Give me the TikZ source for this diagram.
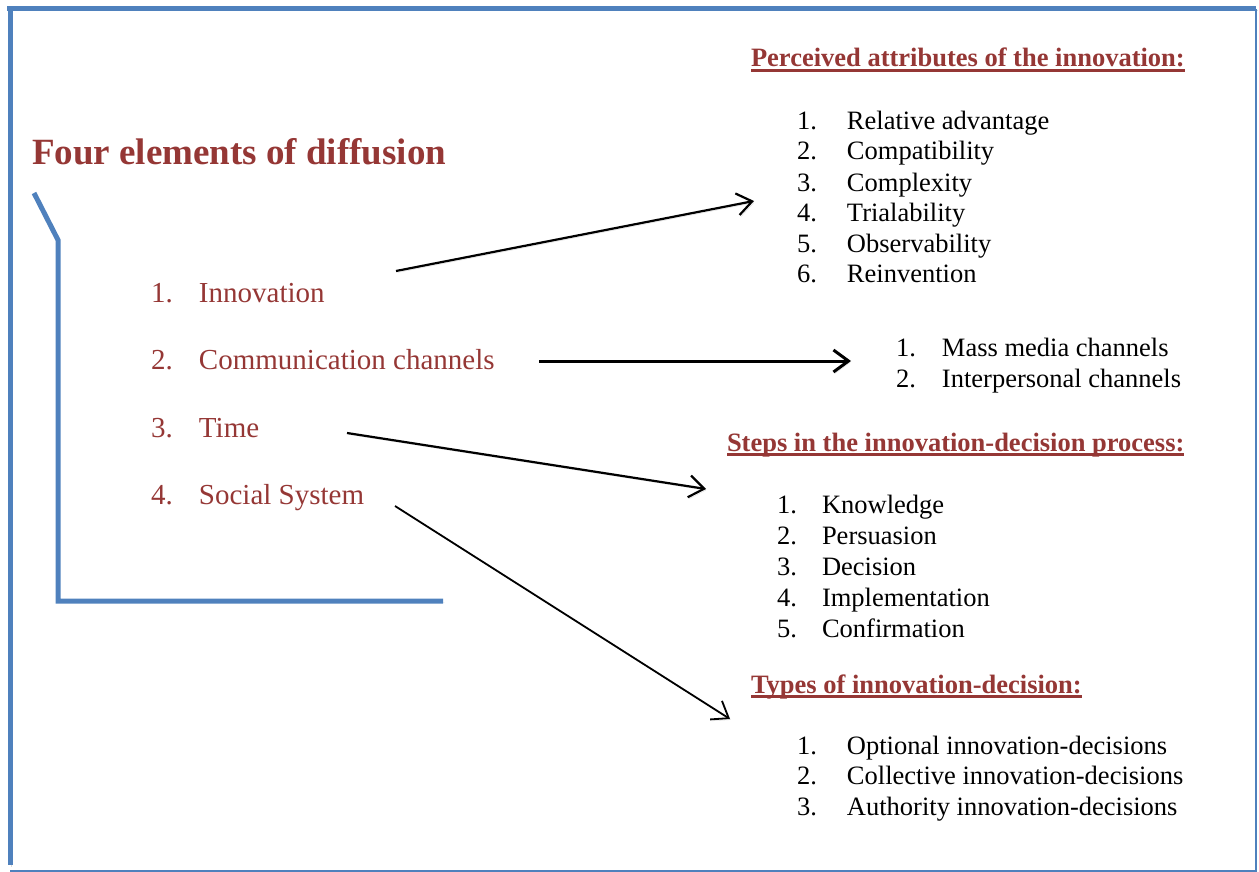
\documentclass[tikz,border=0pt]{standalone}
\usepackage{fontspec}
\setmainfont{Liberation Serif}
\usetikzlibrary{arrows.meta}
\definecolor{frameblue}{RGB}{79,129,189}
\definecolor{darkred}{RGB}{149,55,53}
% numbered list line: number in a fixed-width box, then the text
\newcommand\numline[3]{\makebox[#1pt][l]{#2.}#3}
\begin{document}
\begin{tikzpicture}[x=1pt,y=-1pt,
  every node/.style={inner sep=0pt, outer sep=0pt, anchor=base west},
  shadowed/.style={preaction={draw=black!14, transform canvas={xshift=1.5pt,yshift=-1.5pt}}},
  thickblue/.style={draw=frameblue, line width=5pt, shadowed},
  thinblue/.style={draw=frameblue, line width=1.5pt},
  title/.style={text=darkred, font=\fontsize{37}{44}\selectfont\bfseries},
  element/.style={text=darkred, font=\fontsize{29}{35}\selectfont},
  heading/.style={text=darkred, font=\fontsize{26.5}{31}\selectfont\bfseries},
  entry/.style={text=black, font=\fontsize{26.5}{31}\selectfont},
  uline/.style={draw=darkred, line width=2.5pt},
  link/.style={draw=black, line width=2.2pt, shadowed, -{Straight Barb[length=15pt,width=22pt]}}
]
\useasboundingbox (0,0) rectangle (1259,872);

% outer frame
\draw[thickblue] (7,9) -- (1256,9);
\draw[thickblue] (10,7) -- (10,865);
\draw[thinblue] (1256,9) -- (1256,871) -- (10,871);

% bracket around the four elements
\draw[thickblue, line join=miter] (34,193) -- (58,240) -- (58,601) -- (443,601);

% title and the four elements
\node[title] (title) at (32,165) {Four elements of diffusion};
\node[element] (innov) at (151,302) {\numline{48}{1}{Innovation}};
\node[element] (chan)  at (151,369) {\numline{48}{2}{Communication channels}};
\node[element] (time)  at (151,437) {\numline{48}{3}{Time}};
\node[element] (soc)   at (151,504) {\numline{48}{4}{Social System}};

% perceived attributes
\node[heading] (hattr) at (751,67) {Perceived attributes of the innovation:};
\draw[uline] ([yshift=-3.5pt]hattr.base west) -- ([yshift=-3.5pt]hattr.base east);
\node[entry] (at1) at (797,130) {\numline{50}{1}{Relative advantage}};
\node[entry] (at2) at (797,160) {\numline{50}{2}{Compatibility}};
\node[entry] (at3) at (797,191) {\numline{50}{3}{Complexity}};
\node[entry] (at4) at (797,221) {\numline{50}{4}{Trialability}};
\node[entry] (at5) at (797,252) {\numline{50}{5}{Observability}};
\node[entry] (at6) at (797,282) {\numline{50}{6}{Reinvention}};

% channels
\node[entry] (ch1) at (896,356) {\numline{46}{1}{Mass media channels}};
\node[entry] (ch2) at (896,387) {\numline{46}{2}{Interpersonal channels}};

% steps of the innovation-decision process
\node[heading] (hstep) at (727,451) {Steps in the innovation-decision process:};
\draw[uline] ([yshift=-3.5pt]hstep.base west) -- ([yshift=-3.5pt]hstep.base east);
\node[entry] (st1) at (777,513) {\numline{45}{1}{Knowledge}};
\node[entry] (st2) at (777,544) {\numline{45}{2}{Persuasion}};
\node[entry] (st3) at (777,575) {\numline{45}{3}{Decision}};
\node[entry] (st4) at (777,606) {\numline{45}{4}{Implementation}};
\node[entry] (st5) at (777,637) {\numline{45}{5}{Confirmation}};

% types of innovation-decision
\node[heading] (htype) at (751,693) {Types of innovation-decision:};
\draw[uline] ([yshift=-3.5pt]htype.base west) -- ([yshift=-3.5pt]htype.base east);
\node[entry] (ty1) at (797,754) {\numline{50}{1}{Optional innovation-decisions}};
\node[entry] (ty2) at (797,784) {\numline{50}{2}{Collective innovation-decisions}};
\node[entry] (ty3) at (797,815) {\numline{50}{3}{Authority innovation-decisions}};

% connector end points
\coordinate (innovout) at (396,271);
\coordinate (attrin)   at (754,201);
\coordinate (chanout)  at (539,361);
\coordinate (chin)     at (851,361);
\coordinate (timeout)  at (347,433);
\coordinate (stepin)   at (706,489);
\coordinate (socout)   at (395,506);
\coordinate (typein)   at (730,719);

\draw[link] (innovout) -- (attrin);
\draw[link, line width=3pt] (chanout) -- (chin);
\draw[link] (timeout) -- (stepin);
\draw[link, line width=1.8pt] (socout) -- (typein);
\end{tikzpicture}
\end{document}
